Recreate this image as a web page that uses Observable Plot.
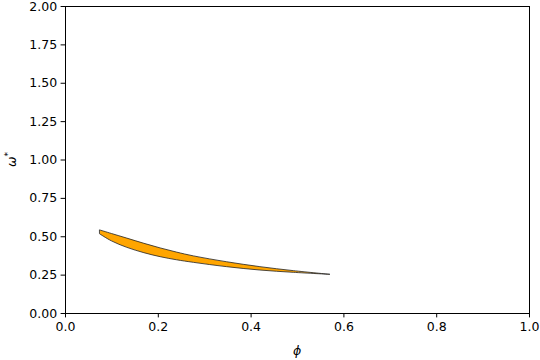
<!DOCTYPE html>
<html>
<head>
<meta charset="utf-8">
<script src="https://cdn.jsdelivr.net/npm/d3@7"></script>
<script src="https://cdn.jsdelivr.net/npm/@observablehq/plot@0.6"></script>
<style>
  html, body { margin: 0; padding: 0; background: #fff; }
</style>
</head>
<body>
<div id="chart"></div>
<script>
const phi   = [0.075, 0.100, 0.133, 0.170, 0.205, 0.240, 0.277, 0.348, 0.420, 0.492, 0.571];
const upper = [0.541, 0.518, 0.488, 0.454, 0.424, 0.397, 0.372, 0.334, 0.302, 0.276, 0.252];
const lower = [0.515, 0.470, 0.428, 0.393, 0.367, 0.347, 0.330, 0.302, 0.280, 0.265, 0.252];
const xTicks = [0, 0.2, 0.4, 0.6, 0.8, 1.0];
const yTicks = [0, 0.25, 0.5, 0.75, 1.0, 1.25, 1.5, 1.75, 2.0];

const data = phi.map((x, i) => ({x, y1: lower[i], y2: upper[i]}));

const W = 540, H = 360;
const mL = 65, mR = 11, mT = 6, mB = 47;

const svg = Plot.plot({
  width: W,
  height: H,
  marginLeft: mL,
  marginRight: mR,
  marginTop: mT,
  marginBottom: mB,
  style: {fontFamily: "DejaVu Sans", fontSize: "12.5px", color: "#000", background: "#fff"},
  x: {domain: [0, 1]},
  y: {domain: [0, 2]},
  marks: [
    Plot.areaY(data, {x: "x", y1: "y1", y2: "y2", fill: "orange", stroke: "#222", strokeWidth: 0.8, curve: "catmull-rom"}),
    Plot.frame({stroke: "#000", strokeWidth: 1}),
    Plot.axisX({ticks: xTicks, tickFormat: d3.format(".1f"), tickSize: 4.4, tickPadding: 4, label: null, stroke: "#000", fill: "#000"}),
    Plot.axisY({ticks: yTicks, tickFormat: d3.format(".2f"), tickSize: 4.4, tickPadding: 4, label: null, stroke: "#000", fill: "#000"})
  ]
});

const s = d3.select(svg);
s.append("text")
  .attr("x", (mL + W - mR) / 2)
  .attr("y", 355)
  .attr("text-anchor", "middle")
  .attr("font-family", "DejaVu Sans")
  .attr("font-size", 12.5)
  .attr("font-style", "italic")
  .attr("fill", "#000")
  .text("ϕ");

const yl = s.append("text")
  .attr("transform", `translate(16,${(mT + H - mB) / 2}) rotate(-90)`)
  .attr("text-anchor", "middle")
  .attr("font-family", "DejaVu Sans")
  .attr("font-size", 12.5)
  .attr("fill", "#000");
yl.append("tspan").attr("font-style", "italic").text("ω");
yl.append("tspan").attr("dy", -5).attr("font-size", 9).text("*");

document.getElementById("chart").appendChild(svg);
</script>
</body>
</html>
